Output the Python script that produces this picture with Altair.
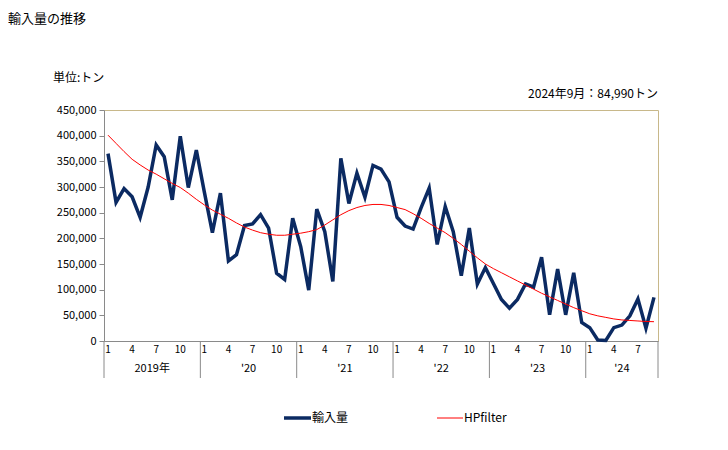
import altair as alt
import pandas as pd

years = [2019] * 12 + [2020] * 12 + [2021] * 12 + [2022] * 12 + [2023] * 12 + [2024] * 9
months = list(range(1, 13)) * 5 + list(range(1, 10))

imports = [
    365000, 270000, 297000, 281000, 241000, 300000, 382000, 359000, 275000, 399000, 299000, 372000,
    290000, 211000, 288000, 156000, 168000, 225000, 228000, 246000, 220000, 132000, 120000, 239000,
    184000, 99000, 257000, 213000, 116000, 356000, 268000, 327000, 280000, 342000, 335000, 310000,
    241000, 224000, 218000, 260000, 298000, 188000, 262000, 213000, 127000, 220000, 111000, 143000,
    112000, 81000, 64000, 81000, 111000, 105000, 163000, 51000, 140000, 51000, 133000, 36000,
    26000, 2000, 1000, 26000, 31000, 49000, 82000, 25000, 84990,
]
hp = [
    401000, 385000, 369000, 354000, 343000, 333000, 325000, 316000, 307000, 299000, 288000, 276000,
    265000, 255000, 247000, 239000, 230000, 222000, 216000, 211000, 208000, 206000, 206000, 208000,
    210000, 213000, 217000, 226000, 236000, 246000, 254000, 260000, 264000, 266000, 266000, 264000,
    260000, 256000, 248000, 239000, 229000, 220000, 211000, 200000, 188000, 175000, 162000, 150000,
    141000, 133000, 125000, 117000, 109000, 101000, 93000, 86000, 79000, 72000, 65000, 59000,
    53000, 49000, 46000, 43000, 41000, 40000, 39000, 38000, 37600,
]
year_labels = ["2019年", "'20", "'21", "'22", "'23", "'24"]
y_ticks = [0, 50000, 100000, 150000, 200000, 250000, 300000, 350000, 400000, 450000]

W, H = 554, 231
FONT = "Noto Sans CJK JP"
NAVY = "#0B2A62"
GRAY = "#8A8A8A"

df = pd.DataFrame({
    "idx": list(range(len(imports))),
    "year": years,
    "month": months,
    "imports": imports,
    "hp": hp,
})
df_m = df[df["month"].isin([1, 4, 7, 10])]

yr_centers = []
yr_seps = []
for y, lab in zip(sorted(set(years)), year_labels):
    sub = df[df["year"] == y]["idx"]
    yr_centers.append({"pos": (sub.min() + sub.max()) / 2, "label": lab})
    yr_seps.append(sub.min() - 0.5)
yr_seps.append(len(imports) - 0.5)
df_yc = pd.DataFrame(yr_centers)
df_ys = pd.DataFrame({"pos": yr_seps})
one = pd.DataFrame({"a": [0]})

xs = alt.Scale(domain=[-0.5, len(imports) - 0.5], nice=False, zero=False)
ys = alt.Scale(domain=[0, 450000], nice=False)

x_axis = alt.Axis(labels=False, ticks=False, grid=False, title=None, domainColor=GRAY)
y_axis = alt.Axis(values=y_ticks, format=",.0f", grid=False, title=None, domainColor=GRAY,
                  tickColor=GRAY, tickSize=5, labelFont=FONT, labelFontSize=11,
                  labelColor="#000", labelPadding=3)

line_imp = alt.Chart(df).mark_line(color=NAVY, strokeWidth=3.5).encode(
    x=alt.X("idx:Q", scale=xs, axis=x_axis),
    y=alt.Y("imports:Q", scale=ys, axis=y_axis),
)
line_hp = alt.Chart(df).mark_line(color="#FF0000", strokeWidth=1).encode(
    x=alt.X("idx:Q", scale=xs, axis=x_axis),
    y=alt.Y("hp:Q", scale=ys, axis=y_axis),
)
month_txt = alt.Chart(df_m).mark_text(font=FONT, fontSize=10, baseline="middle", color="#000").encode(
    x=alt.X("idx:Q", scale=xs),
    y=alt.value(H + 9),
    text="month:N",
)
year_txt = alt.Chart(df_yc).mark_text(font=FONT, fontSize=11, baseline="middle", color="#000").encode(
    x=alt.X("pos:Q", scale=xs),
    y=alt.value(H + 28),
    text="label:N",
)
year_sep = alt.Chart(df_ys).mark_rule(color=GRAY, strokeWidth=1).encode(
    x=alt.X("pos:Q", scale=xs),
    y=alt.value(H),
    y2=alt.value(H + 37),
)

title_txt = alt.Chart(one).mark_text(font=FONT, fontSize=13, align="left", baseline="middle", color="#000").encode(
    x=alt.value(-96), y=alt.value(-91), text=alt.value("輸入量の推移"))
unit_txt = alt.Chart(one).mark_text(font=FONT, fontSize=12, align="left", baseline="middle", color="#000").encode(
    x=alt.value(-51), y=alt.value(-32), text=alt.value("単位:トン"))
note_txt = alt.Chart(one).mark_text(font=FONT, fontSize=12, align="right", baseline="middle", color="#000").encode(
    x=alt.value(W), y=alt.value(-16), text=alt.value("2024年9月：84,990トン"))

leg1_line = alt.Chart(one).mark_rule(color=NAVY, strokeWidth=3.5).encode(
    x=alt.value(180), x2=alt.value(207), y=alt.value(308))
leg1_txt = alt.Chart(one).mark_text(font=FONT, fontSize=12, align="left", baseline="middle", color="#000").encode(
    x=alt.value(208), y=alt.value(308), text=alt.value("輸入量"))
leg2_line = alt.Chart(one).mark_rule(color="#FF0000", strokeWidth=1).encode(
    x=alt.value(333), x2=alt.value(359), y=alt.value(308))
leg2_txt = alt.Chart(one).mark_text(font=FONT, fontSize=12, align="left", baseline="middle", color="#000").encode(
    x=alt.value(360), y=alt.value(308), text=alt.value("HPfilter"))

chart = alt.layer(
    line_imp, line_hp, month_txt, year_txt, year_sep,
    title_txt, unit_txt, note_txt, leg1_line, leg1_txt, leg2_line, leg2_txt,
).properties(
    width=W, height=H,
    autosize=alt.AutoSizeParams(type="none"),
    padding={"left": 96, "top": 102, "right": 62, "bottom": 100},
).configure_view(stroke="#C8B88A", strokeWidth=1)

chart.save("out.html", embed_options={"renderer": "svg", "actions": False})
